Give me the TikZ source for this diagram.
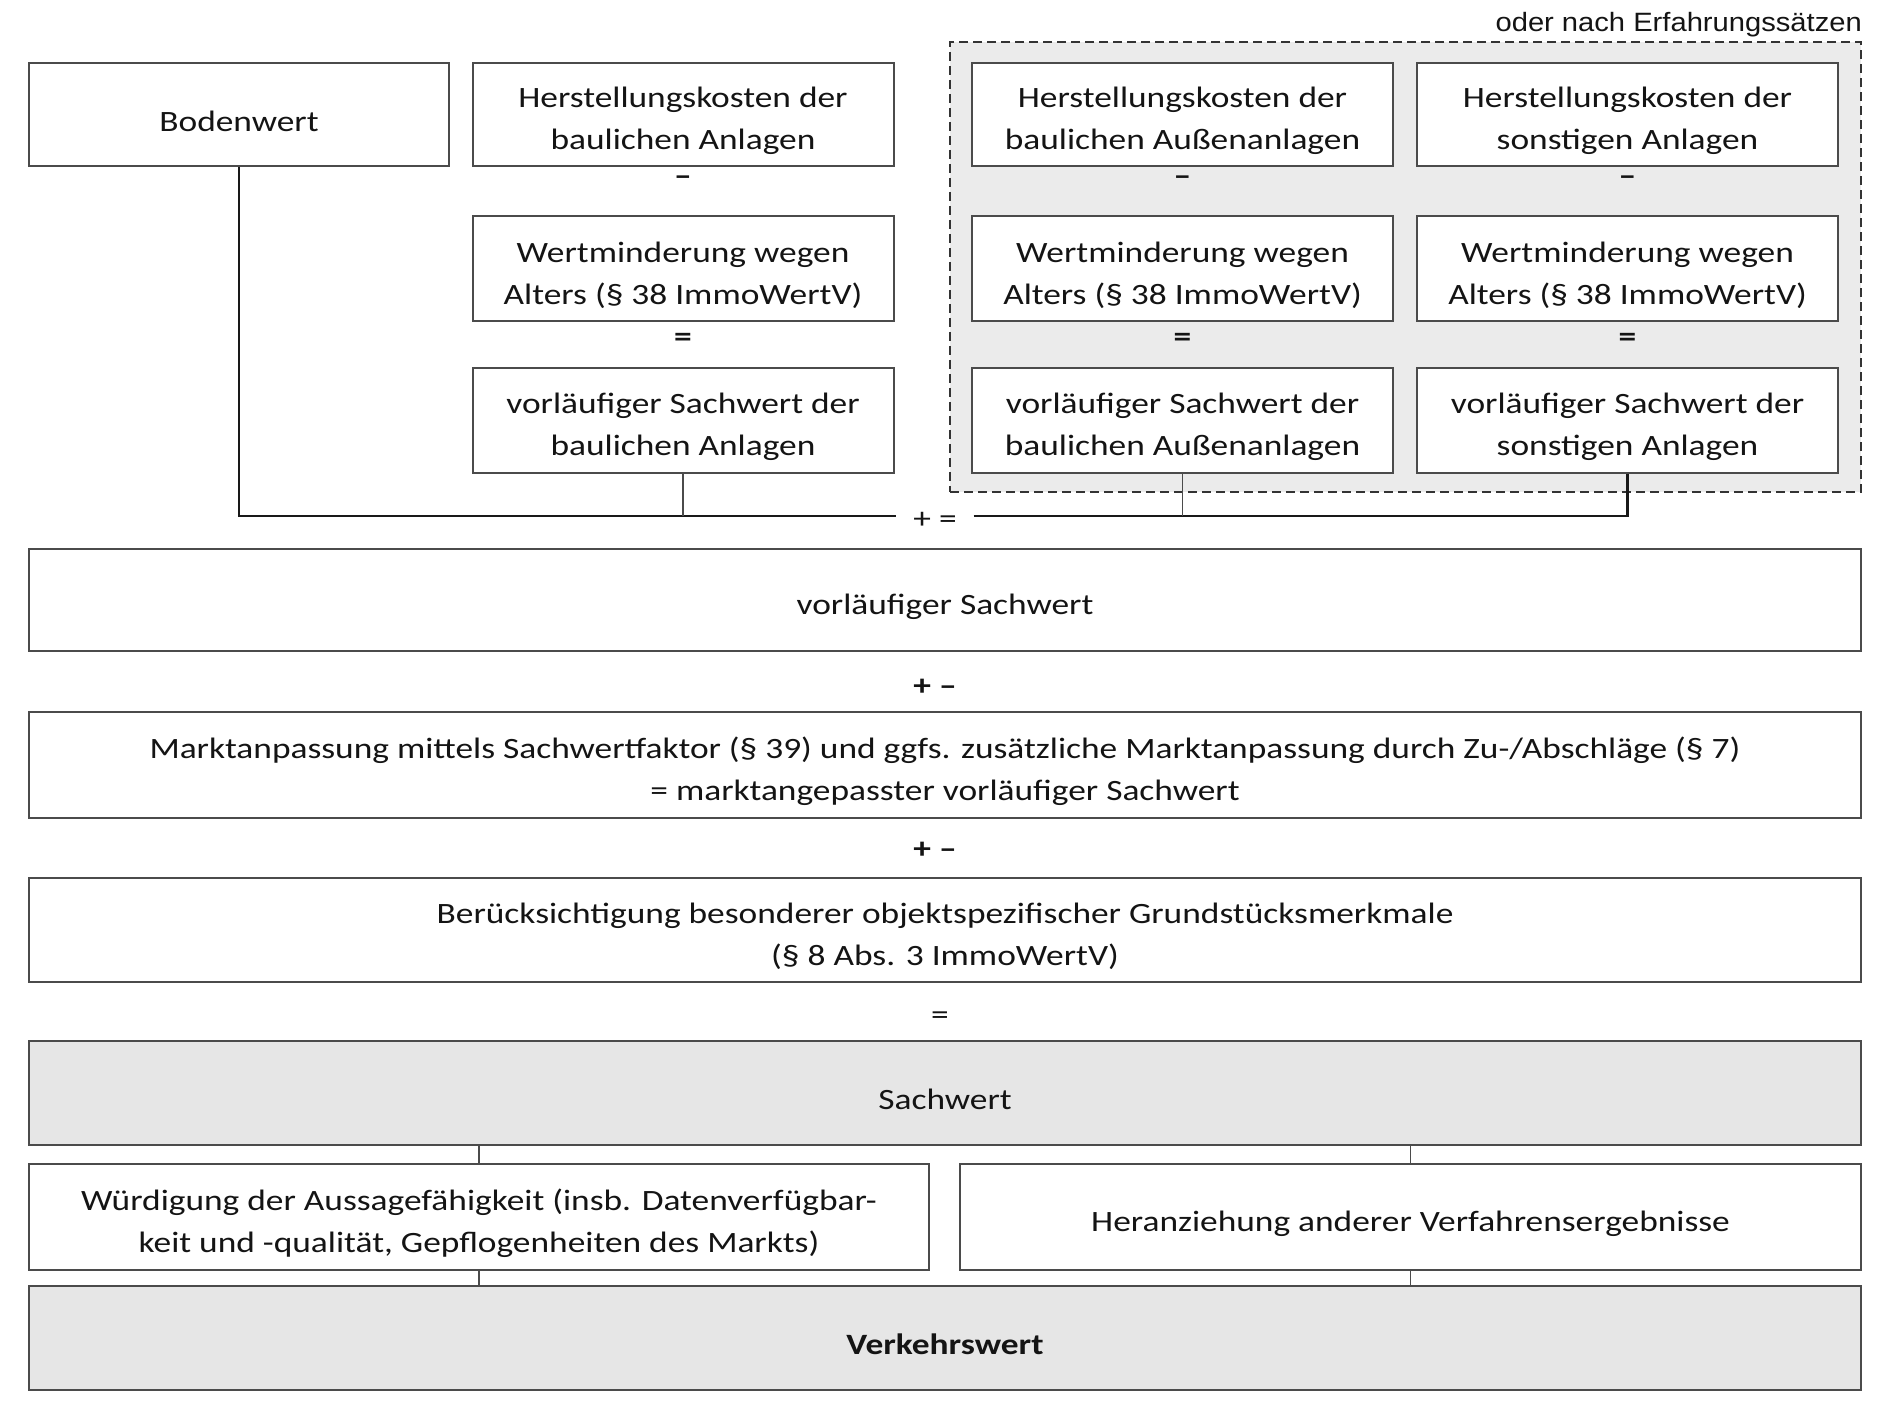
\documentclass[tikz,border=0pt]{standalone}
\usepackage{fontspec}
\setmainfont{Carlito}[FakeStretch=1.2]
\newfontfamily\arialfont{Liberation Sans}[FakeStretch=1.1]
\definecolor{boxline}{RGB}{75,75,75}
\definecolor{boxfill}{RGB}{230,230,230}
\definecolor{grpfill}{RGB}{235,235,235}
\definecolor{txt}{RGB}{20,20,20}
\begin{document}
\begin{tikzpicture}[x=1pt,y=-1pt,
  box/.style={draw=boxline, line width=2pt, fill=white, align=center, inner sep=0pt,
    text=txt, font=\fontsize{29.5}{42}\selectfont},
  oneline/.style={box, execute at begin node={\rule{0pt}{34pt}}},
  twoline/.style={box, execute at begin node={\rule{0pt}{76pt}}},
  smallbox/.style={twoline, minimum width=421pt},
  widebox/.style={minimum width=1832pt},
  graybox/.style={oneline, widebox, fill=boxfill},
  grpbox/.style={draw=black!80, dashed, dash pattern=on 9pt off 5pt, line width=2pt, fill=grpfill, inner sep=0pt},
  op/.style={text=txt, inner sep=0pt, font=\fontsize{29.5}{36}\selectfont},
  bop/.style={op, font=\fontsize{29.5}{36}\selectfont\bfseries},
  conn/.style={draw=black!90, line width=2.5pt},
  thin/.style={draw=boxline, line width=1.5pt}]
\useasboundingbox (0,0) rectangle (1890,1412);

% group area
\node[grpbox, minimum width=911pt, minimum height=450pt] (grp) at (1405.5,267) {};
\node[anchor=base east, inner sep=0pt, text=txt, font=\arialfont\fontsize{26.5}{30}\selectfont] (lbl) at (1862,32) {oder nach Erfahrungssätzen};

% column 1
\node[oneline, minimum width=420pt, minimum height=103pt] (boden) at (239,114.5) {Bodenwert};
\node[smallbox, minimum height=103pt] (hk1) at (683,114.5) {Herstellungskosten der\\baulichen Anlagen};
\node[smallbox, minimum height=105pt] (wm1) at (683,268.5) {Wertminderung wegen\\Alters (§ 38 ImmoWertV)};
\node[smallbox, minimum height=105pt] (vs1) at (683,420.5) {vorläufiger Sachwert der\\baulichen Anlagen};
% column 2
\node[smallbox, minimum height=103pt] (hk2) at (1182.5,114.5) {Herstellungskosten der\\baulichen Außenanlagen};
\node[smallbox, minimum height=105pt] (wm2) at (1182.5,268.5) {Wertminderung wegen\\Alters (§ 38 ImmoWertV)};
\node[smallbox, minimum height=105pt] (vs2) at (1182.5,420.5) {vorläufiger Sachwert der\\baulichen Außenanlagen};
% column 3
\node[smallbox, minimum height=103pt] (hk3) at (1627.5,114.5) {Herstellungskosten der\\sonstigen Anlagen};
\node[smallbox, minimum height=105pt] (wm3) at (1627.5,268.5) {Wertminderung wegen\\Alters (§ 38 ImmoWertV)};
\node[smallbox, minimum height=105pt] (vs3) at (1627.5,420.5) {vorläufiger Sachwert der\\sonstigen Anlagen};

% operators in columns
\node[bop] (m1) at (683,181) {–};
\node[bop] (m2) at (1182.5,181) {–};
\node[bop] (m3) at (1627.5,181) {–};
\node[bop] (e1) at (683,340) {=};
\node[bop] (e2) at (1182.5,340) {=};
\node[bop] (e3) at (1627.5,340) {=};

% sum
\node[op, minimum width=77pt] (pe) at (935,516) {};
\node[op] (pelbl) at (935,520) {+ =};
\draw[conn] (boden.south) |- (pe.west);
\draw[thin] (vs1.south) -- (vs1.south |- pe.west);
\draw[conn] (pe.east) -| (vs3.south);
\draw[thin] (vs2.south) -- (vs2.south |- pe.east);

% main chain
\node[oneline, widebox, minimum height=102pt] (vsw) at (945,600) {vorläufiger Sachwert};
\node[bop] (pm1) at (935,687) {+ –};
\node[twoline, widebox, minimum height=106pt] (markt) at (945,765) {Marktanpassung mittels Sachwertfaktor (§ 39) und ggfs. zusätzliche Marktanpassung durch Zu-/Abschläge (§ 7)\\= marktangepasster vorläufiger Sachwert};
\node[bop] (pm2) at (935,850) {+ –};
\node[twoline, widebox, minimum height=104pt] (ber) at (945,930) {Berücksichtigung besonderer objektspezifischer Grundstücksmerkmale\\(§ 8 Abs. 3 ImmoWertV)};
\node[op] (eq) at (940,1018) {=};
\node[graybox, minimum height=104pt] (sach) at (945,1093) {Sachwert};
\node[twoline, minimum width=900pt, minimum height=106pt] (wuerd) at (479,1217) {Würdigung der Aussagefähigkeit (insb. Datenverfügbar-\\keit und -qualität, Gepflogenheiten des Markts)};
\node[oneline, minimum width=901pt, minimum height=106pt] (heran) at (1410.5,1217) {Heranziehung anderer Verfahrensergebnisse};
\node[graybox, minimum height=104pt] (verk) at (945,1338) {\bfseries Verkehrswert};

\draw[thin] (wuerd.north) -- (wuerd.north |- sach.south);
\draw[thin] (heran.north) -- (heran.north |- sach.south);
\draw[thin] (wuerd.south) -- (wuerd.south |- verk.north);
\draw[thin] (heran.south) -- (heran.south |- verk.north);
\end{tikzpicture}
\end{document}
